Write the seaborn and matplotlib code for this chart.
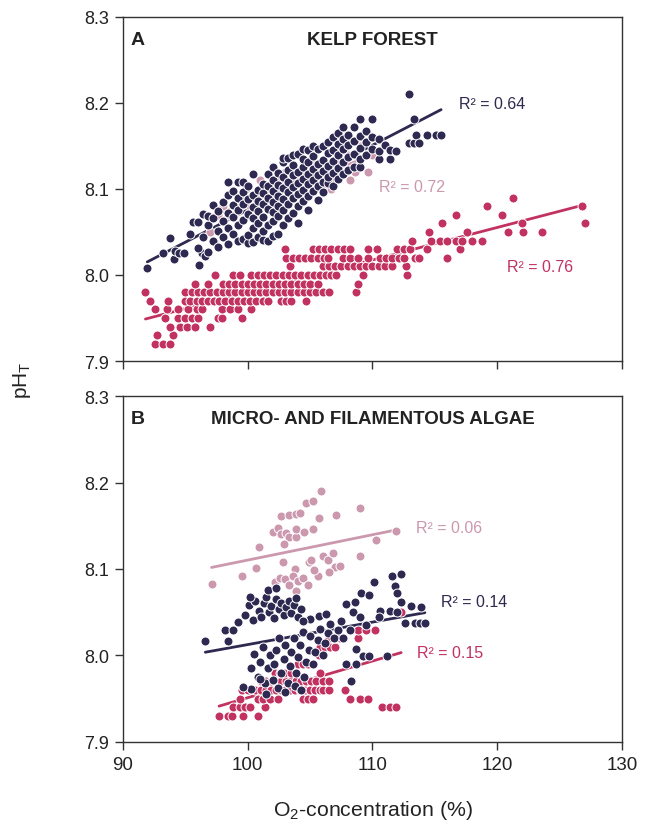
import matplotlib
matplotlib.use("Agg")
import matplotlib.pyplot as plt
import pandas as pd
import seaborn as sns

# ---------------------------------------------------------------
# O2 saturation (%) against pH_T for two habitats
# ---------------------------------------------------------------
NAVY = "#2e2950"
PINK = "#cc98ae"
CRIMSON = "#c23260"

# Panel A - kelp forest (crimson series logged in 0.01 pH steps)
kelp_crimson_rows = [
    (7.92, [92.6, 93.2, 93.8]),
    (7.93, [92.7, 94.0]),
    (7.94, [93.8, 94.6, 95.1, 95.8, 97.0]),
    (7.95, [93.4, 94.4, 95.0, 95.5, 96.0, 97.6, 97.9, 99.5]),
    (7.96, [92.6, 93.5, 94.4, 95.2, 95.9, 96.3, 97.9, 98.6, 99.2, 100.3]),
    (7.97, [92.2, 93.6, 95.0, 95.4, 95.9, 96.3, 96.8, 97.3, 97.7, 98.2, 98.7,
            99.2, 99.7, 100.2, 100.7, 101.2, 101.6, 102.7, 103.1, 103.5, 104.7]),
    (7.98, [91.8, 95.0, 95.5, 96.0, 96.5, 97.0, 97.5, 98.0, 98.5, 99.0, 99.5,
            100.0, 100.5, 101.0, 101.5, 102.0, 102.5, 103.0, 103.5, 104.0,
            104.5, 105.0, 105.5, 106.0, 106.5, 108.7]),
    (7.99, [95.8, 96.8, 98.0, 98.5, 99.0, 99.5, 100.0, 100.5, 101.0, 101.5,
            102.0, 102.5, 103.0, 103.5, 104.0, 104.5, 105.0, 105.6, 108.8]),
    (8.00, [97.4, 98.8, 99.4, 100.3, 100.8, 101.3, 101.8, 102.3, 102.8, 103.3,
            103.8, 104.3, 104.8, 105.3, 105.8, 106.3, 106.7, 107.1, 109.2, 112.8]),
    (8.01, [103.4, 106.0, 106.5, 107.0, 107.5, 108.0, 108.5, 109.0, 109.5,
            110.0, 110.5, 111.0, 111.6, 112.7]),
    (8.02, [103.1, 103.6, 104.1, 104.6, 105.1, 105.6, 106.1, 106.4, 107.6,
            108.2, 108.8, 109.6, 110.6, 111.1, 111.6, 112.1, 112.5, 113.4,
            113.7, 116.0]),
    (8.03, [103.0, 105.2, 105.7, 106.2, 106.7, 107.2, 107.7, 108.2, 109.6,
            110.4, 112.0, 112.5, 113.0, 114.4, 117.0]),
    (8.04, [113.2, 114.7, 115.4, 116.0, 116.7, 117.2, 118.0, 118.8]),
    (8.05, [114.5, 117.6, 120.9, 122.1, 123.6]),
    (8.06, [115.6, 122.0, 127.0]),
    (8.07, [116.7, 120.4]),
    (8.08, [119.2, 126.8]),
    (8.09, [121.3]),
]

kelp_pink = [
    (97.0, 8.05), (97.3, 8.04), (97.6, 8.07), (98.4, 8.07), (98.0, 8.08),
    (98.9, 8.07), (99.4, 8.09), (100.2, 8.08), (100.8, 8.09), (101.5, 8.10),
    (102.0, 8.09), (102.6, 8.11), (103.3, 8.10), (103.8, 8.11), (104.4, 8.12),
    (105.0, 8.11), (105.5, 8.13), (106.0, 8.10), (106.7, 8.10), (107.0, 8.11),
    (107.4, 8.13), (108.0, 8.14), (108.2, 8.11), (108.6, 8.12), (109.0, 8.15),
    (109.6, 8.12), (110.0, 8.14), (104.8, 8.13), (103.0, 8.12), (101.0, 8.11),
    (99.9, 8.10),
]

# navy series: O2 value followed by the pH readings taken at it
kelp_navy_cols = [
    (91.95, [8.008]), (93.2, [8.025]), (93.8, [8.043]), (94.1, [8.019]),
    (94.2, [8.028]), (94.5, [8.025]), (94.9, [8.025]), (95.4, [8.048]),
    (95.6, [8.062]), (96.1, [8.012]), (96.3, [8.025]), (96.6, [8.022]),
    (96.0, [8.031, 8.062]),
    (96.4, [8.044, 8.071]),
    (96.8, [8.027, 8.058, 8.069]),
    (97.2, [8.039, 8.066, 8.081]),
    (97.6, [8.032, 8.051, 8.074]),
    (98.0, [8.044, 8.063, 8.085]),
    (98.4, [8.036, 8.055, 8.072, 8.093, 8.108]),
    (98.8, [8.048, 8.067, 8.081, 8.098]),
    (99.2, [8.040, 8.058, 8.076, 8.089, 8.108]),
    (99.6, [8.042, 8.064, 8.083, 8.097, 8.108]),
    (100.0, [8.037, 8.047, 8.071, 8.088, 8.104]),
    (100.4, [8.038, 8.055, 8.066, 8.079, 8.093, 8.117]),
    (100.8, [8.044, 8.061, 8.074, 8.086, 8.099]),
    (101.2, [8.041, 8.051, 8.068, 8.082, 8.095, 8.106]),
    (101.6, [8.040, 8.058, 8.077, 8.090, 8.103, 8.117]),
    (102.0, [8.045, 8.063, 8.073, 8.085, 8.098, 8.111, 8.126]),
    (102.4, [8.048, 8.069, 8.080, 8.092, 8.105, 8.119]),
    (102.8, [8.058, 8.075, 8.088, 8.101, 8.114, 8.131, 8.136]),
    (103.2, [8.066, 8.083, 8.096, 8.108, 8.122, 8.136]),
    (103.6, [8.072, 8.089, 8.102, 8.116, 8.128, 8.140]),
    (104.0, [8.061, 8.080, 8.094, 8.107, 8.120, 8.141]),
    (104.4, [8.086, 8.099, 8.112, 8.125, 8.135, 8.147]),
    (104.8, [8.075, 8.092, 8.106, 8.118, 8.131, 8.145]),
    (105.2, [8.098, 8.110, 8.123, 8.138, 8.150]),
    (105.6, [8.087, 8.103, 8.116, 8.129, 8.147]),
    (106.0, [8.097, 8.108, 8.121, 8.134, 8.150]),
    (106.4, [8.107, 8.114, 8.127, 8.142, 8.155]),
    (106.8, [8.104, 8.119, 8.133, 8.145, 8.160]),
    (107.2, [8.112, 8.124, 8.139, 8.152, 8.165]),
    (107.6, [8.118, 8.131, 8.146, 8.158, 8.172]),
    (108.0, [8.122, 8.137, 8.151, 8.163]),
    (108.5, [8.126, 8.141, 8.156, 8.172]),
    (109.0, [8.126, 8.135, 8.148, 8.162, 8.181]),
    (109.5, [8.140, 8.155, 8.167]),
    (110.0, [8.146, 8.160, 8.181]),
    (110.5, [8.135, 8.144, 8.158]),
    (111.0, [8.151]),
    (111.4, [8.135, 8.145]),
    (111.9, [8.144]),
    (112.9, [8.153, 8.211]),
    (113.3, [8.153, 8.181]),
    (113.5, [8.163]),
    (113.7, [8.153]),
    (114.4, [8.163]),
    (115.1, [8.163]),
    (115.5, [8.163]),
]

# Panel B - micro- and filamentous algae
algae_crimson_rows = [
    (7.93, [97.7, 98.4, 98.7, 99.6, 100.8]),
    (7.94, [98.8, 99.4, 99.8, 100.2, 101.4, 110.8, 111.4, 111.9]),
    (7.95, [99.4, 100.8, 101.2, 101.8, 102.4, 104.4, 104.8, 105.2, 108.2,
            109.0, 109.6]),
    (7.96, [99.5, 100.0, 100.6, 101.1, 101.5, 101.9, 102.3, 102.7, 103.0,
            103.4, 103.8, 104.2, 104.6, 105.0, 105.4, 105.8, 106.0, 106.5, 107.8]),
    (7.97, [101.1, 101.5, 101.9, 102.3, 102.7, 103.1, 103.5, 103.9, 104.3,
            104.7, 105.1, 105.5, 106.0, 106.5]),
    (7.98, [102.2, 102.6, 102.9, 103.5, 105.8]),
    (7.99, [104.0, 104.4, 104.8]),
    (8.00, [105.7]),
    (8.01, [105.8, 106.2, 106.6, 107.0]),
    (8.02, [106.5, 107.0, 107.4, 108.8]),
    (8.03, [108.8, 109.5, 110.2]),
    (8.05, [112.3]),
]

algae_pink = [
    (97.1, 8.083), (99.5, 8.092), (100.7, 8.101), (100.9, 8.125), (102.0, 8.143),
    (102.4, 8.147), (102.7, 8.140), (103.1, 8.142), (102.7, 8.161), (103.3, 8.162),
    (103.9, 8.164), (104.2, 8.165), (104.7, 8.176), (105.2, 8.179), (105.9, 8.190),
    (103.3, 8.137), (103.9, 8.137), (103.9, 8.146), (104.5, 8.143), (105.2, 8.146),
    (102.9, 8.129), (105.7, 8.159), (107.1, 8.162), (109.0, 8.170), (110.3, 8.133),
    (111.9, 8.144), (109.0, 8.115), (102.8, 8.108), (103.8, 8.100), (104.9, 8.108),
    (105.1, 8.110), (106.0, 8.115), (106.4, 8.110), (106.8, 8.118), (102.2, 8.085),
    (102.6, 8.090), (103.0, 8.088), (103.3, 8.082), (103.6, 8.092), (104.0, 8.086),
    (104.4, 8.090), (104.8, 8.082), (105.6, 8.092), (105.3, 8.099), (107.0, 8.102),
    (107.4, 8.104), (106.5, 8.096), (103.9, 8.075),
]

algae_navy = [
    # upper-left cluster
    (99.8, 8.047), (100.1, 8.058), (100.4, 8.041), (100.6, 8.063), (100.9, 8.052),
    (101.1, 8.044), (101.3, 8.061), (101.5, 8.068), (101.7, 8.050), (101.9, 8.057),
    (102.1, 8.043), (102.3, 8.065), (102.5, 8.054), (102.7, 8.061), (102.9, 8.047),
    (103.1, 8.056), (103.3, 8.063), (103.5, 8.049), (103.7, 8.058), (104.0, 8.045),
    (104.3, 8.054), (101.6, 8.076), (102.3, 8.078), (100.2, 8.068), (103.9, 8.066),
    # central cluster
    (100.3, 7.985), (100.5, 8.002), (100.8, 7.975), (101.0, 7.992), (101.2, 8.010),
    (101.4, 7.968), (101.6, 7.985), (101.8, 8.001), (102.0, 7.972), (102.1, 7.990),
    (102.3, 8.006), (102.5, 8.020), (102.7, 7.980), (102.9, 7.996), (103.0, 8.012),
    (103.2, 7.968), (103.4, 7.988), (103.5, 8.004), (103.7, 8.020), (103.9, 7.980),
    (104.0, 7.998), (104.2, 8.012), (104.4, 8.027), (104.5, 7.975), (104.7, 7.992),
    (104.9, 8.006), (105.0, 8.022), (105.2, 7.990), (105.4, 8.004), (105.6, 8.018),
    (105.8, 8.031), (106.0, 8.000), (106.2, 8.014), (106.4, 8.026), (106.6, 8.036),
    (106.9, 8.020), (107.2, 8.030), (107.5, 8.040), (102.4, 7.962), (103.0, 7.958),
    (103.8, 7.965), (104.3, 7.960), (101.5, 7.955), (101.0, 7.973), (100.3, 7.961),
    (99.6, 7.963), (105.0, 8.042), (105.7, 8.046), (106.3, 8.048), (104.4, 8.040),
    # left outliers
    (96.6, 8.017), (98.4, 8.017), (98.2, 8.029), (98.8, 8.029), (99.2, 8.039),
    # right-hand spread
    (107.9, 8.060), (108.6, 8.062), (109.1, 8.072), (109.7, 8.070), (110.1, 8.085),
    (108.4, 8.050), (109.0, 8.045), (110.6, 8.052), (111.4, 8.052), (112.0, 8.050),
    (112.3, 8.062), (113.1, 8.057), (113.9, 8.056), (111.6, 8.092), (112.3, 8.094),
    (111.8, 8.080), (112.0, 8.072), (112.6, 8.038), (113.4, 8.038), (113.8, 8.038),
    (114.2, 8.038), (110.5, 8.045), (109.5, 8.035), (108.2, 8.030), (107.6, 8.020),
    (108.7, 8.008), (109.2, 7.999), (109.7, 7.999), (111.2, 7.999), (107.9, 7.990),
    (108.7, 7.990), (108.3, 7.970),
]

r2_labels_a = [("R² = 0.64", 116.9, 8.199, NAVY),
               ("R² = 0.72", 110.5, 8.103, PINK),
               ("R² = 0.76", 120.8, 8.010, CRIMSON)]
r2_labels_b = [("R² = 0.06", 113.5, 8.148, PINK),
               ("R² = 0.14", 115.5, 8.062, NAVY),
               ("R² = 0.15", 113.6, 8.003, CRIMSON)]

x_ticks = [90, 100, 110, 120, 130]
y_ticks = [7.9, 8.0, 8.1, 8.2, 8.3]


def rows_to_frame(rows):
    return pd.DataFrame([(o2, ph) for ph, xs in rows for o2 in xs],
                        columns=["o2", "ph"])


def cols_to_frame(cols):
    return pd.DataFrame([(o2, ph) for o2, ps in cols for ph in ps],
                        columns=["o2", "ph"])


def pairs_to_frame(pairs):
    return pd.DataFrame(pairs, columns=["o2", "ph"])


sns.set_theme(style="ticks")
plt.rcParams["font.family"] = ["Liberation Sans", "DejaVu Sans"]
plt.rcParams["mathtext.fontset"] = "custom"
plt.rcParams["mathtext.rm"] = "Liberation Sans"

fig = plt.figure(figsize=(6.49, 8.28), dpi=100)
ax_a = fig.add_axes([0.1895, 0.5628, 0.7689, 0.4155])
ax_b = fig.add_axes([0.1895, 0.1027, 0.7689, 0.4178])

panels = [
    (ax_a, [(rows_to_frame(kelp_crimson_rows), CRIMSON),
            (pairs_to_frame(kelp_pink), PINK),
            (cols_to_frame(kelp_navy_cols), NAVY)], r2_labels_a,
     "A", "KELP FOREST"),
    (ax_b, [(rows_to_frame(algae_crimson_rows), CRIMSON),
            (pairs_to_frame(algae_pink), PINK),
            (pairs_to_frame(algae_navy), NAVY)], r2_labels_b,
     "B", "MICRO- AND FILAMENTOUS ALGAE"),
]

for ax, series, labels, letter, title in panels:
    # regression lines sit underneath the points
    for df, col in series:
        sns.regplot(data=df, x="o2", y="ph", ax=ax, scatter=False, ci=None,
                    color=col, line_kws={"linewidth": 2.0, "zorder": 1})
    for i, (df, col) in enumerate(series):
        sns.scatterplot(data=df, x="o2", y="ph", ax=ax, color=col, s=42,
                        edgecolor="white", linewidth=0.7, zorder=3 + i)
    for text, x, y, col in labels:
        ax.text(x, y, text, color=col, fontsize=11.5, ha="left", va="center")
    ax.text(0.015, 0.935, letter, transform=ax.transAxes, fontsize=14,
            fontweight="bold", ha="left", va="center", color="#222222")
    ax.text(0.5, 0.935, title, transform=ax.transAxes, fontsize=13.5,
            fontweight="bold", ha="center", va="center", color="#222222")

    ax.set_xlim(90, 130)
    ax.set_ylim(7.9, 8.3)
    ax.set_xticks(x_ticks)
    ax.set_yticks(y_ticks)
    ax.set_yticklabels([f"{v:.1f}" for v in y_ticks])
    ax.set_xlabel("")
    ax.set_ylabel("")
    for sp in ax.spines.values():
        sp.set_visible(True)
        sp.set_linewidth(1.0)
        sp.set_color("#333333")
    ax.tick_params(direction="out", length=6, width=1.0, color="#333333",
                   labelsize=13, labelcolor="#222222", pad=4)

ax_a.tick_params(axis="x", labelbottom=False)
ax_b.set_xticklabels([str(v) for v in x_ticks])
ax_b.tick_params(axis="x", labelsize=13.5)

fig.text(372.5 / 649, 1 - 811 / 828, r"O$_{\mathregular{2}}$-concentration (%)",
         ha="center", va="center", fontsize=15.3, color="#222222")
fig.text(22 / 649, 1 - 380 / 828, r"pH$_{\mathregular{T}}$", rotation=90,
         ha="center", va="center", fontsize=15, color="#222222")

fig.savefig("out.png", dpi=100)
